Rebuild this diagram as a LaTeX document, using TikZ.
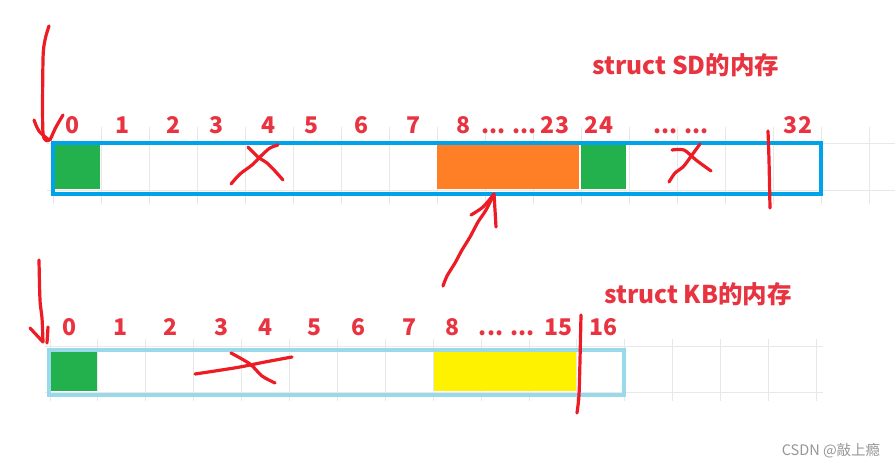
\documentclass[tikz,border=0pt]{standalone}
\usepackage{fontspec}
\setmainfont{Noto Sans CJK SC}
\usetikzlibrary{positioning}
\definecolor{inkred}{RGB}{237,28,36}
\definecolor{txtred}{RGB}{232,52,64}
\definecolor{sdblue}{RGB}{0,162,232}
\definecolor{kbblue}{RGB}{153,217,234}
\definecolor{cellgreen}{RGB}{34,177,76}
\definecolor{cellorange}{RGB}{255,127,39}
\definecolor{cellyellow}{RGB}{255,242,0}
\definecolor{gridgray}{RGB}{232,232,232}
\definecolor{markgray}{RGB}{150,150,150}

\begin{document}
\begin{tikzpicture}[x=1pt, y=-1pt,
  idx/.style={text=txtred, font=\fontsize{23}{23}\selectfont\bfseries,
    inner sep=0pt, anchor=base},
  title/.style={idx, font=\fontsize{24.5}{24.5}\selectfont\bfseries},
  cell/.style={inner sep=0pt, anchor=north west, minimum height=44pt},
  membox/.style={inner sep=0pt, anchor=north west, line width=4pt},
  ink/.style={draw=inkred, line width=3.2pt, line cap=round, line join=round},
  gridline/.style={draw=gridgray, line width=0.9pt}
]
\useasboundingbox (0,0) rectangle (895,466);

% grid behind the two rows
\foreach \k in {0,...,17}
  \draw[gridline] (53.5+48*\k,127) -- (53.5+48*\k,204);
\draw[gridline] (47,143) -- (895,143);
\draw[gridline] (47,190) -- (895,190);
\foreach \k in {0,...,16}
  \draw[gridline] (50+47.9*\k,339) -- (50+47.9*\k,401);
\draw[gridline] (45,346) -- (823,346);
\draw[gridline] (45,392) -- (823,392);

% struct SD
\node[cell, fill=cellgreen, minimum width=46pt] (sdchar) at (54,145) {};
\node[cell, fill=cellorange, minimum width=142pt] (sddouble) at (437,145) {};
\node[cell, fill=cellgreen, minimum width=45.5pt] (sdtail) at (580.3,145) {};
\node[membox, draw=sdblue, minimum width=767.5pt, minimum height=51pt] (sdmem) at (51,141) {};

\foreach \x/\t/\n in {73/0/a, 123/1/b, 174/2/c, 217/3/d, 269/4/e, 312/5/f, 362/6/g,
    413/7/h, 463/8/i, 509/{... ...}/j, 555/23/k, 599/24/l, 681/{... ...}/m, 798/32/n}
  \node[idx] (sd-\n) at (\x,133.3) {\t};
\node[title] (sdtitle) at (686,74) {struct SD的内存};

% struct KB
\node[cell, fill=cellgreen, minimum width=46.5pt, minimum height=40.7pt] (kbchar) at (50.7,350) {};
\node[cell, fill=cellyellow, minimum width=142pt, minimum height=40.7pt] (kbdouble) at (434,350) {};
\node[membox, draw=kbblue, minimum width=575pt, minimum height=45.5pt] (kbmem) at (47,347.5) {};

\foreach \x/\t/\n in {70/0/a, 120.7/1/b, 171/2/c, 221.7/3/d, 265.7/4/e, 315/5/f, 359/6/g,
    409.3/7/h, 452.7/8/i, 506.7/{... ...}/j, 558.3/15/k, 603.3/16/l}
  \node[idx] (kb-\n) at (\x,335) {\t};
\node[title] (kbtitle) at (698,303.3) {struct KB的内存};

% hand-drawn marks
\draw[ink] plot[smooth] coordinates {(49,26) (45,40) (43,60) (43,133) (49,140)};
\draw[ink] plot[smooth] coordinates {(34,120) (39,131) (49,140)};
\draw[ink] plot[smooth] coordinates {(63,115) (56,127) (50,140)};
\draw[ink] plot[smooth] coordinates {(231,184) (240,174) (252,165) (262,155) (270,148) (278,145)};
\draw[ink] plot[smooth] coordinates {(248,147) (258,157) (267,163) (275,171) (283,180)};
\draw[ink] plot[smooth] coordinates {(669,182) (675,173) (683,167) (692,155) (700,144)};
\draw[ink] plot[smooth] coordinates {(672,150) (684,150) (696,160) (711,171)};
\draw[ink] plot[smooth] coordinates {(768,131) (769,160) (770,208)};
\draw[ink] plot[smooth] coordinates {(443,286) (447,276) (455,263) (462,250) (470,237) (478,222) (486,210) (494,194)};
\draw[ink] plot[smooth] coordinates {(471,215) (483,207) (494,194)};
\draw[ink] plot[smooth] coordinates {(494,194) (495,210) (496,227)};
\draw[ink] plot[smooth] coordinates {(39,260) (40,300) (42,318) (43,342)};
\draw[ink] (30,328) -- (43,342);
\draw[ink] (48,327) -- (47,343);
\draw[ink] plot[smooth] coordinates {(195,374) (215,371) (240,367) (265,362) (292,357)};
\draw[ink] plot[smooth] coordinates {(231,353) (250,364) (262,376) (275,383)};
\draw[ink] plot[smooth] coordinates {(581,315) (580,360) (579,395) (577,413)};

\node[text=markgray, font=\fontsize{14.5}{14.5}\selectfont, inner sep=0pt, anchor=base]
  (mark) at (831,455) {CSDN @敲上瘾};
\end{tikzpicture}
\end{document}
